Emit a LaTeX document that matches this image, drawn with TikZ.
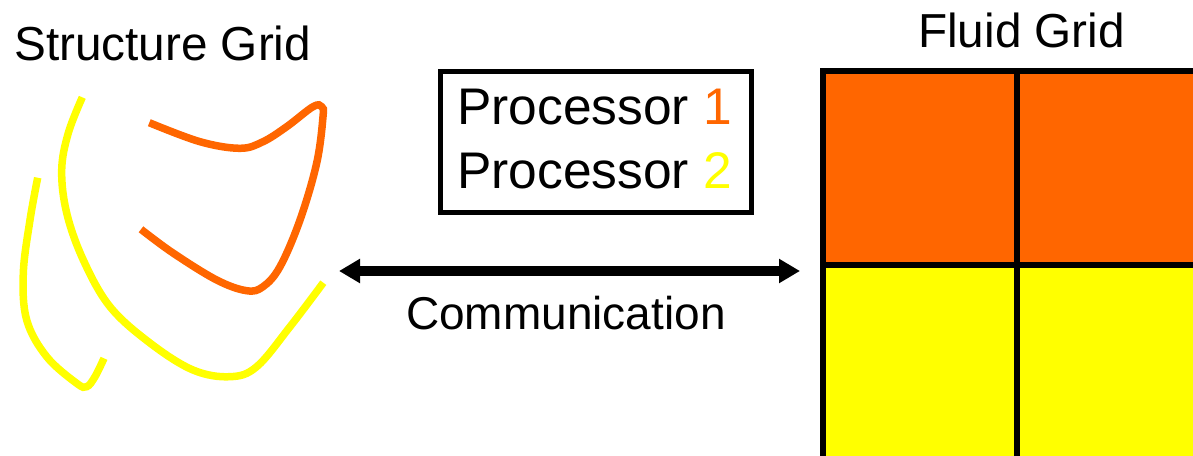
\documentclass[tikz,border=0pt]{standalone}
\usepackage{fontspec}
\setmainfont{Liberation Sans}
\usetikzlibrary{arrows.meta}
\definecolor{orangec}{HTML}{FF6600}
\definecolor{yellowc}{HTML}{FFFF00}
\tikzset{
  label48/.style={anchor=base west, inner sep=0pt, font=\fontsize{47.7}{56}\selectfont},
  label51/.style={anchor=base west, inner sep=0pt, font=\fontsize{51.5}{60}\selectfont},
  label46/.style={anchor=base west, inner sep=0pt, font=\fontsize{46}{52}\selectfont},
  curve/.style={line width=7.5pt, smooth, tension=0.6},
  gridline/.style={line width=6.5pt, black},
}
\begin{document}
\begin{tikzpicture}[x=1pt, y=-1pt]
\useasboundingbox (0,0) rectangle (1193,455);
\clip (0,0) rectangle (1193,455);
\fill[white] (0,0) rectangle (1193,455);

% titles
\node[label48] (stitle) at (14,60) {Structure Grid};
\node[label48] (ftitle) at (918,47) {Fluid Grid};

% legend box
\node[draw, line width=5pt, minimum width=311pt, minimum height=141pt, inner sep=0pt] (procbox) at (595.5,141.5) {};
\node[label51] (p1) at (457,124) {Processor \textcolor{orangec}{1}};
\node[label51] (p2) at (457,188) {Processor \textcolor{yellowc}{2}};

% communication arrow
\coordinate (aL) at (339,271);
\coordinate (aR) at (800,271);
\draw[line width=10pt, {Triangle[width=23pt,length=21pt]}-{Triangle[width=23pt,length=21pt]}] (aL) -- (aR);
\node[label46] (comm) at (406,329) {Communication};

% structure grid curves
\draw[curve, yellowc] plot coordinates {(37.7,177.7) (30,220) (23.3,273.3) (26.7,320) (46.7,356.7) (76.7,383.3) (86.7,386.7) (95,376.7) (104,358.3)};
\draw[curve, yellowc] plot coordinates {(82.3,97.3) (68.3,133) (61.7,170) (66.7,213) (83.3,260) (110,306.7) (150,343) (193,370) (230,376.7) (256.7,366.7) (290,326.7) (323.3,282.7)};
\draw[curve, orangec] plot coordinates {(149.3,122.7) (200,141.7) (240,148.3) (263,141.7) (286.7,126.7) (313,106.7) (321.7,106.7) (323,116.7) (316.7,163) (300,220) (280,266.7) (263,286.7) (246.7,290.7) (216.7,280) (173,253) (141,229.3)};

% fluid grid
\fill[orangec] (823,71) rectangle (1200,265);
\fill[yellowc] (823,265) rectangle (1200,460);
\draw[gridline] (823,460) -- (823,71) -- (1200,71);
\draw[gridline] (1017,71) -- (1017,460);
\draw[gridline] (823,265) -- (1200,265);
\end{tikzpicture}
\end{document}
